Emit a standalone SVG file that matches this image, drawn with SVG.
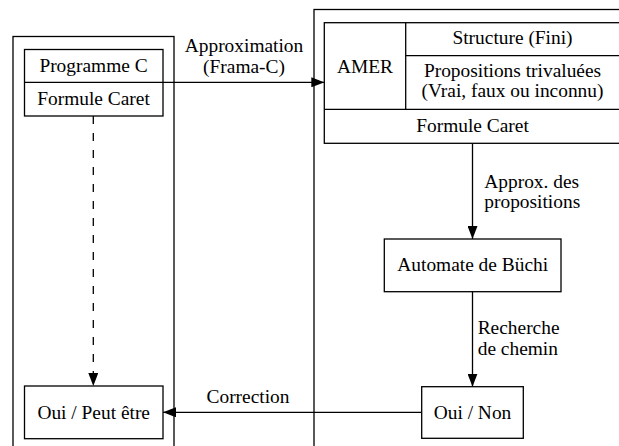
<svg xmlns="http://www.w3.org/2000/svg" width="619" height="446" viewBox="0 0 619 446">
<defs>
<marker id="ah" viewBox="0 0 13 10" refX="13" refY="5" markerWidth="13" markerHeight="10" markerUnits="userSpaceOnUse" orient="auto">
<path d="M0,0 L13,5 L0,10 Z" fill="#000"/>
</marker>
<style>
.b{fill:#fff;stroke:#000;stroke-width:1.3}
.f{fill:none;stroke:#000;stroke-width:1.3}
.l{fill:none;stroke:#000;stroke-width:1.3}
.t{font-family:Liberation Serif, DejaVu Serif, serif;font-size:19.4px;fill:#000}
.c{text-anchor:middle}
</style>
</defs>
<rect width="619" height="446" fill="#fff"/>
<g id="frame-left"><rect class="f" x="13" y="36.5" width="161" height="420"/></g>
<g id="frame-right"><rect class="f" x="314" y="9.5" width="330" height="450"/></g>
<g id="connectors">
<line class="l" x1="163" y1="82.3" x2="324.3" y2="82.3" marker-end="url(#ah)"/>
<line class="l" x1="93.3" y1="116" x2="93.3" y2="386" stroke-dasharray="8,9" marker-end="url(#ah)"/>
<line class="l" x1="472.5" y1="143.3" x2="472.5" y2="239" marker-end="url(#ah)"/>
<line class="l" x1="472.5" y1="291.7" x2="472.5" y2="386.7" marker-end="url(#ah)"/>
<line class="l" x1="421.7" y1="412.3" x2="163" y2="412.3" marker-end="url(#ah)"/>
<text class="t c" x="244" y="51.7">Approximation</text>
<text class="t c" x="244" y="72.5">(Frama-C)</text>
<text class="t" x="484.3" y="187.7">Approx. des</text>
<text class="t" x="484.3" y="208.3">propositions</text>
<text class="t" x="477.7" y="334">Recherche</text>
<text class="t" x="477.7" y="354.5">de chemin</text>
<text class="t c" x="248" y="402.7">Correction</text>
</g>
<g id="programme">
<rect class="b" x="24.5" y="49.5" width="138.5" height="66.5"/>
<line class="l" x1="24.5" y1="82.3" x2="163" y2="82.3"/>
<text class="t c" x="93.5" y="72">Programme C</text>
<text class="t c" x="93.5" y="105.3">Formule Caret</text>
</g>
<g id="amer">
<rect class="b" x="324.3" y="22.7" width="296" height="120.6"/>
<line class="l" x1="405.7" y1="22.7" x2="405.7" y2="109.3"/>
<line class="l" x1="405.7" y1="55.7" x2="620.3" y2="55.7"/>
<line class="l" x1="324.3" y1="109.3" x2="620.3" y2="109.3"/>
<text class="t c" x="365" y="72.7">AMER</text>
<text class="t c" x="512.5" y="43.5">Structure (Fini)</text>
<text class="t c" x="512.5" y="77.3">Propositions trivaluées</text>
<text class="t c" x="512.5" y="97.3">(Vrai, faux ou inconnu)</text>
<text class="t c" x="472.5" y="131.7">Formule Caret</text>
</g>
<g id="buchi">
<rect class="b" x="384.3" y="239" width="176.7" height="52.7"/>
<text class="t c" x="472.7" y="270.7">Automate de Büchi</text>
</g>
<g id="ouinon">
<rect class="b" x="421.7" y="386.7" width="101.6" height="51.6"/>
<text class="t c" x="472.5" y="418.5">Oui / Non</text>
</g>
<g id="ouipeut">
<rect class="b" x="24.5" y="386" width="138.5" height="52.7"/>
<text class="t c" x="93.7" y="418.5">Oui / Peut être</text>
</g>
</svg>
